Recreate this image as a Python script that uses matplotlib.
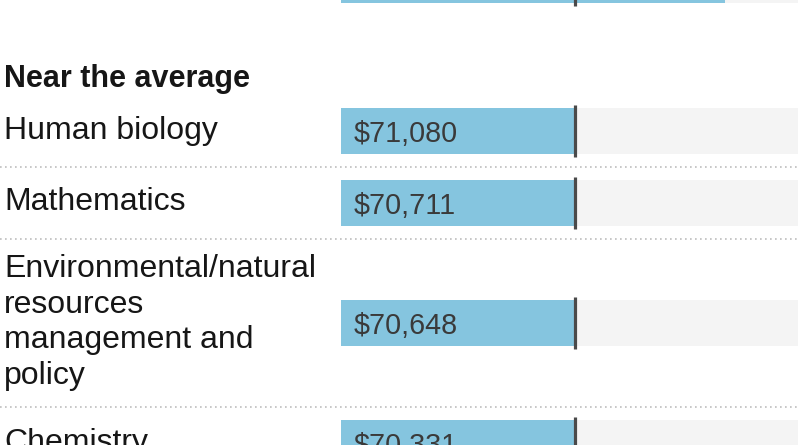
import matplotlib
matplotlib.use("Agg")
import matplotlib.pyplot as plt
import matplotlib.transforms as mtransforms

# tail of the section above (only its bar edge is visible)
prev_values = [115950]

section = "Near the average"
majors = ["Human biology", "Mathematics",
          "Environmental/natural\nresources\nmanagement and\npolicy",
          "Chemistry"]
salaries = [71080, 70711, 70648, 70331]
average = 70700
scale_max = 138000

BLUE, TRACK, AVG, DOT = "#85c5df", "#f4f4f4", "#4a4a4a", "#bdbdbd"
INK, VAL_INK = "#161616", "#3a3a3a"
BAR_H, PITCH, PAD = 46, 35.5, 13          # px
FONT = ["Liberation Sans", "Arial", "DejaVu Sans"]

fig = plt.figure(figsize=(8, 4.45), dpi=100)
ax = fig.add_axes([341/800, 0, 457/800, 1])
ax.set_xlim(0, scale_max); ax.set_ylim(445, 0); ax.set_axis_off()
rowT = mtransforms.blended_transform_factory(fig.transFigure, ax.transData)
valT = ax.transData + mtransforms.ScaledTranslation(13/100, 0, fig.dpi_scale_trans)

def bar(yc, v, show_value=True):
    ax.barh(yc, scale_max, height=BAR_H, color=TRACK, lw=0)
    ax.barh(yc, v, height=BAR_H, color=BLUE, lw=0)
    ax.vlines(average, yc - BAR_H/2 - 3, yc + BAR_H/2 + 3, color=AVG, lw=2.3)
    if show_value:
        ax.text(0, yc + 11, f"${v:,.0f}", transform=valT, va="baseline",
                ha="left", fontsize=20.7, color=VAL_INK, family=FONT)

for v in prev_values:
    bar(-20, v, show_value=False)

ax.text(4/800, 87, section, transform=rowT, fontsize=22, fontweight="bold",
        color=INK, family=FONT, va="baseline")

y = 95
for i, (name, v) in enumerate(zip(majors, salaries)):
    lines = name.split("\n")
    h = max(BAR_H, PITCH*len(lines)) + 2*PAD
    yc = y + h/2
    if i > 0:
        ax.plot([0, 1], [y, y], transform=rowT, color=DOT, lw=1.2,
                dashes=(1, 2.0), clip_on=False)
    for k, ln in enumerate(lines):
        ax.text(4/800, yc + 7.5 + (k - (len(lines)-1)/2)*PITCH, ln,
                transform=rowT, fontsize=23, color=INK, family=FONT,
                va="baseline", ha="left")
    bar(yc, v)
    y += h

fig.savefig("out.png", dpi=100, facecolor="white")
